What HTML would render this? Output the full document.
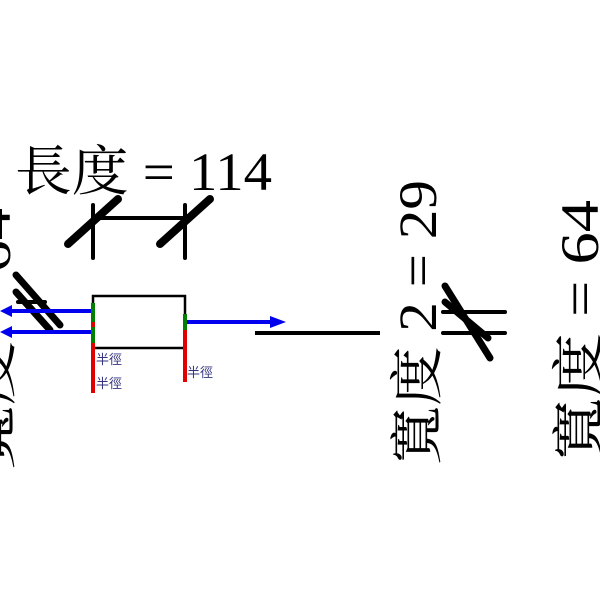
<!DOCTYPE html>
<html><head><meta charset="utf-8"><style>html,body{margin:0;padding:0;background:#fff;width:600px;height:600px;overflow:hidden}</style></head>
<body>
<svg width="600" height="600" viewBox="0 0 600 600" xmlns="http://www.w3.org/2000/svg" style="font-family:'Liberation Serif','Noto Serif CJK SC',serif">
<rect width="600" height="600" fill="#fff"/>
<text x="15" y="190" font-size="54" textLength="257" lengthAdjust="spacingAndGlyphs">長度 = 114</text>
<g stroke="#000" stroke-linecap="round">
<line x1="93" y1="218" x2="185" y2="218" stroke-width="4"/>
<line x1="93" y1="205" x2="93" y2="258" stroke-width="4"/>
<line x1="185" y1="205" x2="185" y2="258" stroke-width="4"/>
<line x1="68" y1="244" x2="118" y2="199" stroke-width="8"/>
<line x1="160" y1="244" x2="210" y2="199" stroke-width="8"/>
</g>
<g stroke="#000" stroke-linecap="round">
<line x1="16" y1="275" x2="60" y2="325" stroke-width="7"/>
<line x1="16" y1="292" x2="50" y2="330" stroke-width="7"/>
<line x1="18" y1="302" x2="45" y2="302" stroke-width="4"/>
</g>
<rect x="93" y="296" width="92" height="52" fill="none" stroke="#000" stroke-width="2.5"/>
<g stroke="#0000ee" stroke-width="4" fill="#0000ee">
<line x1="93" y1="311" x2="8" y2="311"/>
<line x1="93" y1="332" x2="8" y2="332"/>
<line x1="185" y1="322" x2="272" y2="322"/>
</g>
<polygon points="0,311 12,305 12,317" fill="#0000ee"/>
<polygon points="0,332 12,326 12,338" fill="#0000ee"/>
<polygon points="286,322 270,316 270,328" fill="#0000ee"/>
<g stroke-width="4">
<line x1="93" y1="303" x2="93" y2="322" stroke="#008000"/>
<line x1="93" y1="322" x2="93" y2="327" stroke="#e00000"/>
<line x1="93" y1="327" x2="93" y2="343" stroke="#008000"/>
<line x1="93" y1="343" x2="93" y2="393" stroke="#e00000"/>
<line x1="185" y1="314" x2="185" y2="330" stroke="#008000"/>
<line x1="185" y1="330" x2="185" y2="382" stroke="#e00000"/>
</g>
<g fill="#333380" font-size="13" font-family="'Liberation Sans','Noto Sans CJK TC',sans-serif">
<text x="96" y="364">半徑</text>
<text x="96" y="388">半徑</text>
<text x="187" y="377">半徑</text>
</g>
<line x1="255" y1="333" x2="380" y2="333" stroke="#000" stroke-width="4"/>
<g stroke="#000" stroke-linecap="round">
<line x1="443" y1="312" x2="505" y2="312" stroke-width="4"/>
<line x1="443" y1="333" x2="505" y2="333" stroke-width="4"/>
<line x1="445" y1="286" x2="490" y2="358" stroke-width="7"/>
<line x1="445" y1="302" x2="488" y2="338" stroke-width="7"/>
</g>
<text transform="translate(436,465) rotate(-90)" font-size="54" textLength="285" lengthAdjust="spacingAndGlyphs">寬度 2 = 29</text>
<text transform="translate(598,462) rotate(-90)" font-size="54" textLength="262" lengthAdjust="spacingAndGlyphs">寬度 = 64</text>
<text transform="translate(10,470) rotate(-90)" font-size="54" textLength="262" lengthAdjust="spacingAndGlyphs">寬度 = 64</text>
</svg>
</body></html>
